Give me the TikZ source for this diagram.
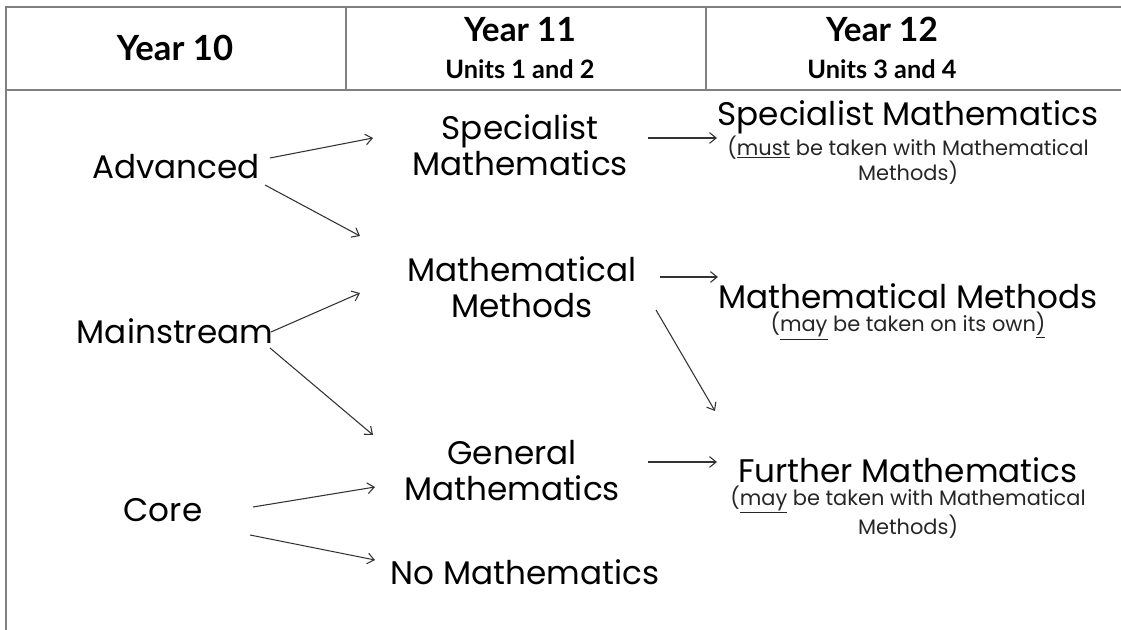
\documentclass[tikz,border=0pt]{standalone}
\usepackage{fontspec}
\setmainfont{Poppins}
\newfontfamily\headfont{Lato}
\usetikzlibrary{arrows.meta}

\tikzset{
  frame/.style={draw=black!50, line width=1.5pt},
  head/.style={font=\headfont\bfseries, align=center, inner sep=0pt},
  course/.style={font=\fontsize{24.5}{27}\selectfont, align=center, inner sep=0pt},
  note/.style={font=\fontsize{15.7}{18.5}\selectfont, align=center, text=black!85, inner sep=0pt},
  arr/.style={-{Straight Barb[length=5pt,width=8pt]}, line width=0.8pt, black!80}
}

\begin{document}
\begin{tikzpicture}[x=0.75pt, y=-0.75pt]
\useasboundingbox (0,0) rectangle (1121,630);

% table frame
\draw[frame] (1121,7) -- (6,7) -- (6,630);
\draw[frame] (6,90) -- (1121,90);
\draw[frame] (346,7) -- (346,90);
\draw[frame] (706,7) -- (706,90);

% header
\node[head, font=\headfont\bfseries\fontsize{26}{28}\selectfont] (y10) at (175,48) {Year 10};
\node[head] (y11) at (520,48) {\fontsize{25}{28}\selectfont Year 11\\[13pt]\fontsize{19}{22}\selectfont Units 1 and 2};
\node[head] (y12) at (882,48) {\fontsize{25}{28}\selectfont Year 12\\[13pt]\fontsize{19}{22}\selectfont Units 3 and 4};

% year 10
\node[course] (adv) at (176,167) {Advanced};
\node[course] (main) at (175,331) {Mainstream};
\node[course] (core) at (163,510) {Core};

% year 11
\node[course] (spec11) at (520,145) {Specialist\\Mathematics};
\node[course] (mm11) at (522,287) {Mathematical\\Methods};
\node[course] (gen11) at (512,471) {General\\Mathematics};
\node[course] (nomath) at (525,572) {No Mathematics};

% year 12
\node[course] (spec12) at (908,117) {Specialist Mathematics};
\node[note] (spec12n) at (908,160) {(\underline{must} be taken with Mathematical\\Methods)};
\node[course] (mm12) at (908,296) {Mathematical Methods};
\node[note] (mm12n) at (908,326) {(\underline{may} be taken on its own\underline{)}};
\node[course] (fur12) at (908,470) {Further Mathematics};
\node[note] (fur12n) at (908,512) {(\underline{may} be taken with Mathematical\\Methods)};

% pathways
\draw[arr] ([shift={(94,-9)}]adv.center) -- ([shift={(-147,-7)}]spec11.center);
\draw[arr] ([shift={(89,18)}]adv.center) -- ([shift={(-162,-51)}]mm11.center);
\draw[arr] ([shift={(96,1)}]main.center) -- ([shift={(-162,6)}]mm11.center);
\draw[arr] ([shift={(95,17)}]main.center) -- ([shift={(-139,-36)}]gen11.center);
\draw[arr] ([shift={(90,-3)}]core.center) -- ([shift={(-137,16)}]gen11.center);
\draw[arr] ([shift={(87,25)}]core.center) -- ([shift={(-150,-12)}]nomath.center);

\draw[arr] ([shift={(128,-7)}]spec11.center) -- ([shift={(-191,21)}]spec12.center);
\draw[arr] ([shift={(138,-10)}]mm11.center) -- ([shift={(-190,-19)}]mm12.center);
\draw[arr] ([shift={(134,23)}]mm11.center) -- ([shift={(-193,-59)}]fur12.center);
\draw[arr] ([shift={(136,-9)}]gen11.center) -- ([shift={(-191,-8)}]fur12.center);

\end{tikzpicture}
\end{document}
